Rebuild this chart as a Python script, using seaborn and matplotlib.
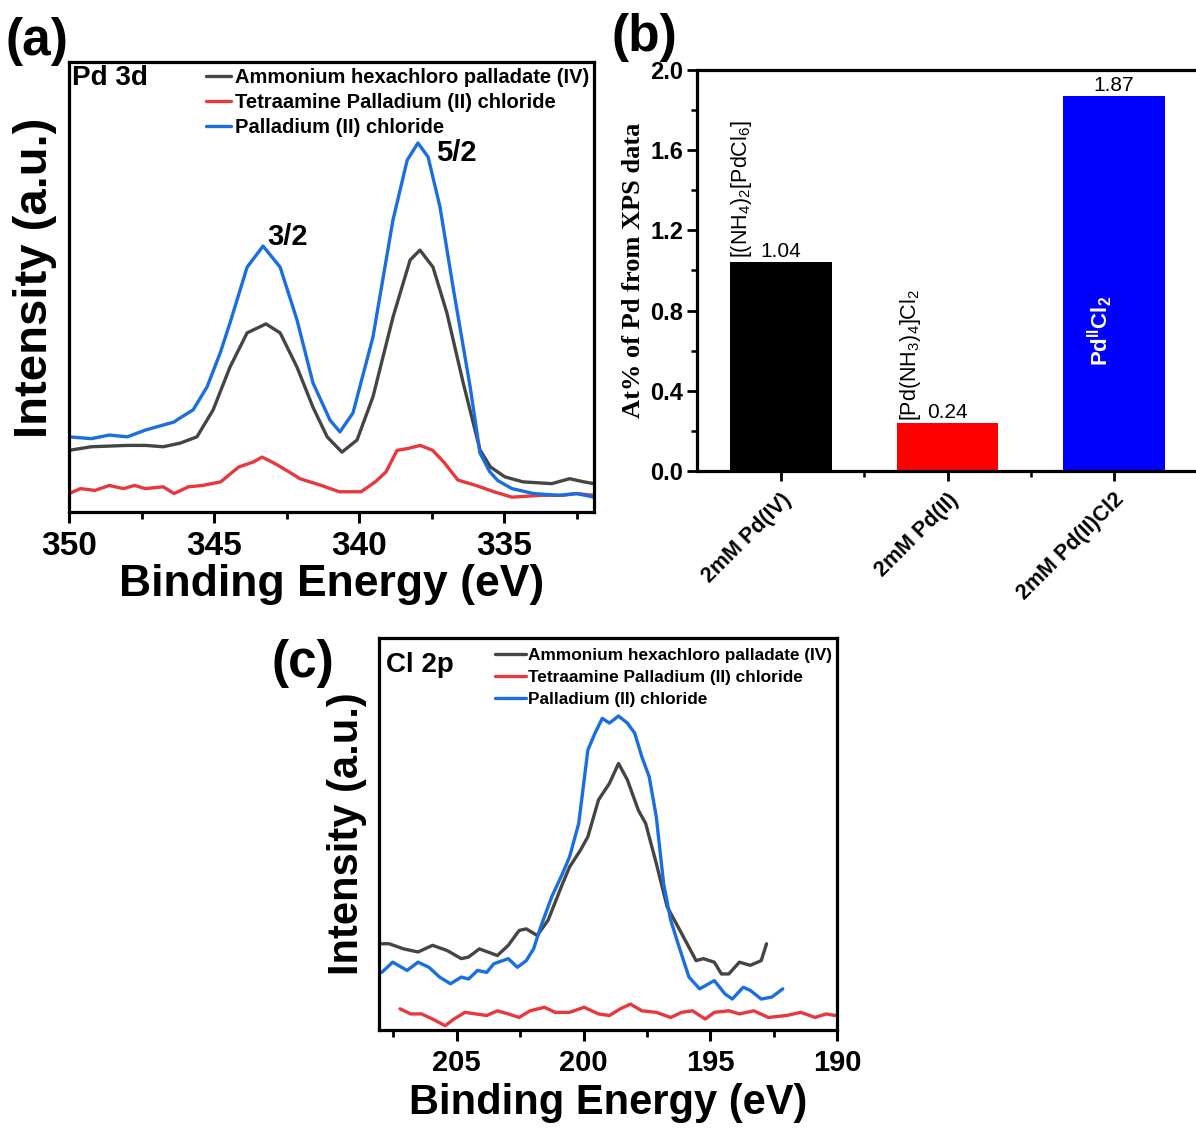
import matplotlib
matplotlib.use("Agg")
import matplotlib.pyplot as plt
import seaborn as sns
import pandas as pd
from matplotlib.ticker import MultipleLocator

sns.set_style("ticks")
plt.rcParams['font.family'] = ['Liberation Sans', 'DejaVu Sans']
plt.rcParams['mathtext.fontset'] = 'custom'
plt.rcParams['mathtext.rm'] = 'Liberation Sans'
plt.rcParams['mathtext.it'] = 'Liberation Sans:italic'
plt.rcParams['mathtext.bf'] = 'Liberation Sans:bold'
for k in ['text.color', 'axes.labelcolor', 'xtick.color', 'ytick.color', 'axes.edgecolor']:
    plt.rcParams[k] = 'black'

# ---------------- data ----------------
series_names = ["Ammonium hexachloro palladate (IV)",
                "Tetraamine Palladium (II) chloride",
                "Palladium (II) chloride"]
line_colors = ["#454545", "#e8383d", "#1a6ee0"]

# Panel (a): Pd 3d
pd_gray_E = [350.0, 349.23, 347.99, 347.37, 346.75, 346.17, 345.59, 345.03, 344.45, 343.86, 343.21, 342.72,
             342.14, 341.59, 341.10, 340.59, 340.07, 339.52, 338.83, 338.24, 337.90, 337.45, 336.97, 336.41,
             335.83, 335.47, 334.97, 334.35, 333.36, 332.74, 332.25, 331.90]
pd_gray_I = [13.7, 14.5, 14.8, 14.8, 14.5, 15.3, 16.7, 22.7, 32.2, 39.8, 41.8, 39.8,
             32.2, 23.3, 16.7, 13.3, 16.0, 25.6, 43.3, 56.0, 58.2, 54.4, 44.2, 28.7,
             13.8, 10.0, 7.8, 6.7, 6.3, 7.4, 6.7, 6.3]
pd_red_E = [350.0, 349.60, 349.11, 348.61, 348.12, 347.74, 347.37, 346.75, 346.38, 345.88, 345.39, 344.77,
            344.15, 343.65, 343.34, 342.91, 342.41, 342.04, 341.30, 340.68, 339.93, 339.44, 339.07, 338.69,
            338.32, 337.89, 337.46, 337.08, 336.59, 335.97, 335.35, 334.73, 333.73, 333.01, 332.50, 331.90]
pd_red_I = [4.1, 5.2, 4.8, 5.9, 5.2, 5.9, 5.2, 5.6, 4.1, 5.6, 5.9, 6.7,
            10.0, 11.1, 12.2, 10.8, 8.9, 7.4, 5.9, 4.5, 4.5, 6.7, 8.9, 13.7,
            14.1, 14.8, 13.7, 11.1, 7.1, 5.9, 4.5, 3.3, 3.7, 3.7, 4.1, 3.7]
pd_blue_E = [350.0, 349.23, 348.61, 347.99, 347.37, 346.38, 346.17, 345.72, 345.24, 344.79, 344.45, 343.86,
             343.31, 342.72, 342.14, 341.59, 341.00, 340.66, 340.21, 339.52, 338.83, 338.34, 337.97, 337.62,
             337.21, 336.76, 336.17, 335.83, 335.50, 335.22, 334.73, 333.98, 333.11, 332.50, 331.90]
pd_blue_I = [16.7, 16.3, 17.1, 16.7, 18.2, 20.0, 20.9, 22.7, 27.8, 35.3, 42.0, 54.4,
             59.1, 54.4, 42.7, 28.7, 20.4, 17.8, 22.0, 38.9, 64.9, 78.2, 82.0, 78.9,
             67.8, 50.0, 27.8, 13.1, 9.0, 7.0, 5.2, 4.1, 3.7, 4.1, 3.3]

# Panel (b): bar chart
bar_categories = ["2mM Pd(IV)", "2mM Pd(II)", "2mM Pd(II)Cl2"]
bar_values = [1.04, 0.24, 1.87]
bar_colors = ["#000000", "#ff0000", "#0000ff"]
bar_compounds = [r"[(NH$_4$)$_2$[PdCl$_6$]", r"[Pd(NH$_3$)$_4$]Cl$_2$", r"Pd$^{\mathbf{II}}$Cl$_\mathbf{2}$"]

# Panel (c): Cl 2p
cl_gray_E = [207.96, 207.67, 207.10, 206.53, 205.96, 205.39, 204.82, 204.54, 204.11, 203.40, 202.97, 202.54,
             202.26, 201.83, 201.40, 200.83, 200.55, 200.12, 199.83, 199.41, 198.98, 198.62, 198.27, 197.84,
             197.55, 197.13, 196.70, 196.27, 195.84, 195.56, 195.27, 194.84, 194.56, 194.27, 193.85, 193.42,
             192.99, 192.78]
cl_gray_I = [22.0, 22.0, 20.7, 19.9, 21.6, 20.3, 18.2, 18.6, 20.7, 19.0, 21.6, 25.4,
             25.8, 24.1, 28.0, 37.3, 41.6, 45.9, 49.3, 58.7, 62.9, 68.0, 63.8, 56.1,
             52.7, 42.5, 31.4, 26.3, 21.1, 17.7, 18.2, 17.3, 14.3, 14.3, 17.3, 16.5,
             17.7, 22.0]
cl_red_E = [207.24, 206.82, 206.39, 205.96, 205.46, 205.11, 204.68, 204.25, 203.82, 203.40, 202.97, 202.54,
            202.11, 201.54, 201.12, 200.55, 199.98, 199.41, 198.98, 198.55, 198.15, 197.70, 197.13, 196.56,
            196.13, 195.70, 195.20, 194.84, 194.27, 193.85, 193.28, 192.71, 191.99, 191.43, 190.86, 190.43,
            190.07]
cl_red_I = [5.4, 4.1, 4.1, 2.8, 1.1, 2.8, 4.5, 4.1, 3.7, 4.9, 4.1, 3.2,
            4.9, 5.8, 4.5, 4.5, 5.8, 4.1, 3.7, 5.4, 6.6, 4.9, 4.5, 3.2,
            4.5, 4.9, 2.8, 4.5, 4.9, 4.1, 4.9, 3.2, 3.7, 4.5, 3.2, 4.1,
            3.7]
cl_blue_E = [207.96, 207.53, 206.96, 206.53, 206.10, 205.68, 205.25, 204.82, 204.54, 204.18, 203.82, 203.54,
             202.97, 202.61, 202.26, 201.97, 201.69, 201.26, 200.83, 200.55, 200.19, 199.83, 199.55, 199.26,
             198.98, 198.62, 198.27, 197.98, 197.70, 197.41, 197.13, 196.84, 196.56, 196.27, 195.84, 195.42,
             194.84, 194.42, 194.13, 193.70, 193.42, 192.99, 192.57, 192.14]
cl_blue_I = [14.7, 17.3, 15.2, 17.3, 16.0, 13.5, 11.8, 13.5, 13.0, 15.2, 14.7, 16.9,
             18.2, 16.0, 17.7, 20.7, 26.3, 33.9, 39.9, 44.2, 52.7, 71.4, 75.7, 79.5,
             78.3, 80.1, 78.3, 75.7, 69.7, 64.6, 54.4, 37.3, 28.0, 22.0, 13.5, 10.5,
             12.6, 9.2, 7.9, 10.9, 10.1, 7.9, 8.4, 10.5]

# ---------------- figure ----------------
W, H = 1196, 1131
fig = plt.figure(figsize=(W / 100, H / 100), dpi=100)


def px_axes(l, t, r, b):
    return fig.add_axes([l / W, 1 - b / H, (r - l) / W, (b - t) / H])


def style_spectrum(ax, lw=2.3):
    for s in ax.spines.values():
        s.set_visible(True)
        s.set_linewidth(lw)
        s.set_color("black")
    ax.set_yticks([])
    ax.tick_params(axis="x", which="major", direction="out", length=8, width=2.2, pad=6)
    ax.tick_params(axis="x", which="minor", direction="out", length=5, width=2.0)


def draw_spectra(ax, data, lw):
    for (E, I), name, col in zip(data, series_names, line_colors):
        df = pd.DataFrame({"E": E, "I": I})
        sns.lineplot(data=df, x="E", y="I", ax=ax, color=col, lw=lw, label=name, sort=False)


# ---- Panel (a) ----
ax_a = px_axes(69, 62, 594, 512)
draw_spectra(ax_a, [(pd_gray_E, pd_gray_I), (pd_red_E, pd_red_I), (pd_blue_E, pd_blue_I)], 2.4)
ax_a.set_xlim(350, 331.9)
ax_a.set_ylim(0, 100)
ax_a.xaxis.set_major_locator(MultipleLocator(5))
ax_a.xaxis.set_minor_locator(MultipleLocator(2.5))
style_spectrum(ax_a)
for lab in ax_a.get_xticklabels():
    lab.set_fontsize(24)
    lab.set_fontweight("bold")
ax_a.set_xlabel("Binding Energy (eV)", fontsize=32, fontweight="bold")
ax_a.xaxis.set_label_coords(0.5, -0.115)
ax_a.set_ylabel("Intensity (a.u.)", fontsize=34, fontweight="bold")
ax_a.yaxis.set_label_coords(-0.023, 0.52)
ax_a.legend(loc="upper left", bbox_to_anchor=(0.25, 1.0), frameon=False,
            prop={"size": 14.5, "weight": "bold"}, handlelength=1.25, handletextpad=0.2,
            labelspacing=0.3, borderaxespad=0.2, borderpad=0.1)
ax_a.text(0.006, 0.965, "Pd 3d", transform=ax_a.transAxes, fontsize=20, fontweight="bold",
          ha="left", va="center")
ax_a.text(0.417, 0.612, "3/2", transform=ax_a.transAxes, fontsize=21, fontweight="bold",
          ha="center", va="center")
ax_a.text(0.737, 0.797, "5/2", transform=ax_a.transAxes, fontsize=21, fontweight="bold",
          ha="center", va="center")

# ---- Panel (b) ----
ax_b = px_axes(697, 70, 1198, 471)
bdf = pd.DataFrame({"cat": bar_categories, "val": bar_values})
sns.barplot(data=bdf, x="cat", y="val", hue="cat", palette=bar_colors, legend=False,
            width=0.61, ax=ax_b, saturation=1, edgecolor=None, linewidth=0)
ax_b.set_xlim(-0.505, 2.505)
ax_b.set_ylim(0, 2.0)
ax_b.yaxis.set_major_locator(MultipleLocator(0.4))
ax_b.yaxis.set_minor_locator(MultipleLocator(0.2))
ax_b.set_xticks([0, 1, 2], minor=False)
ax_b.set_xticks([0.5, 1.5], minor=True)
for s in ax_b.spines.values():
    s.set_visible(True)
    s.set_linewidth(2.3)
    s.set_color("black")
ax_b.tick_params(axis="both", which="major", direction="out", length=7, width=2.0)
ax_b.tick_params(axis="both", which="minor", direction="out", length=4, width=1.8)
ax_b.tick_params(axis="y", labelsize=17, pad=3)
ax_b.tick_params(axis="x", labelsize=15.5, pad=6)
ax_b.set_xticklabels(bar_categories, rotation=45, ha="right", rotation_mode="anchor",
                     fontweight="bold")
for lab in ax_b.get_yticklabels():
    lab.set_fontweight("bold")
ax_b.set_xlabel("")
ax_b.set_ylabel("At% of Pd from XPS data", fontsize=19, fontweight="bold",
                family=["Liberation Serif", "DejaVu Serif"])
ax_b.yaxis.set_label_coords(-0.104, 0.5)
for i, v in enumerate(bar_values):
    ax_b.text(i, v + 0.005, f"{v:.2f}", ha="center", va="bottom", fontsize=15)
ax_b.text(0 - 0.235, bar_values[0] + 0.02, bar_compounds[0], rotation=90, ha="center",
          va="bottom", fontsize=15.5)
ax_b.text(1 - 0.22, bar_values[1] + 0.01, bar_compounds[1], rotation=90, ha="center",
          va="bottom", fontsize=15.5)
ax_b.text(2 - 0.085, 0.70, bar_compounds[2], rotation=90, ha="center", va="center",
          fontsize=16, color="white", fontweight="bold")

# ---- Panel (c) ----
ax_c = px_axes(379, 638, 837, 1030)
draw_spectra(ax_c, [(cl_gray_E, cl_gray_I), (cl_red_E, cl_red_I), (cl_blue_E, cl_blue_I)], 2.4)
ax_c.set_xlim(208.07, 190)
ax_c.set_ylim(0, 100)
ax_c.xaxis.set_major_locator(MultipleLocator(5))
ax_c.xaxis.set_minor_locator(MultipleLocator(2.5))
style_spectrum(ax_c)
for lab in ax_c.get_xticklabels():
    lab.set_fontsize(21)
    lab.set_fontweight("bold")
ax_c.set_xlabel("Binding Energy (eV)", fontsize=30, fontweight="bold")
ax_c.xaxis.set_label_coords(0.5, -0.135)
ax_c.set_ylabel("Intensity (a.u.)", fontsize=30, fontweight="bold")
ax_c.yaxis.set_label_coords(-0.026, 0.5)
ax_c.legend(loc="upper left", bbox_to_anchor=(0.233, 1.0), frameon=False,
            prop={"size": 12.4, "weight": "bold"}, handlelength=1.8, handletextpad=0.1,
            labelspacing=0.42, borderaxespad=0.45, borderpad=0.1)
ax_c.text(0.015, 0.93, "Cl 2p", transform=ax_c.transAxes, fontsize=20, fontweight="bold",
          ha="left", va="center")

# ---- panel labels ----
fig.text(6 / W, 1 - 42 / H, "(a)", fontsize=37, fontweight="bold", ha="left", va="center")
fig.text(611 / W, 1 - 37 / H, "(b)", fontsize=37, fontweight="bold", ha="left", va="center")
fig.text(271 / W, 1 - 663 / H, "(c)", fontsize=37, fontweight="bold", ha="left", va="center")

fig.savefig("out.png", dpi=100)
